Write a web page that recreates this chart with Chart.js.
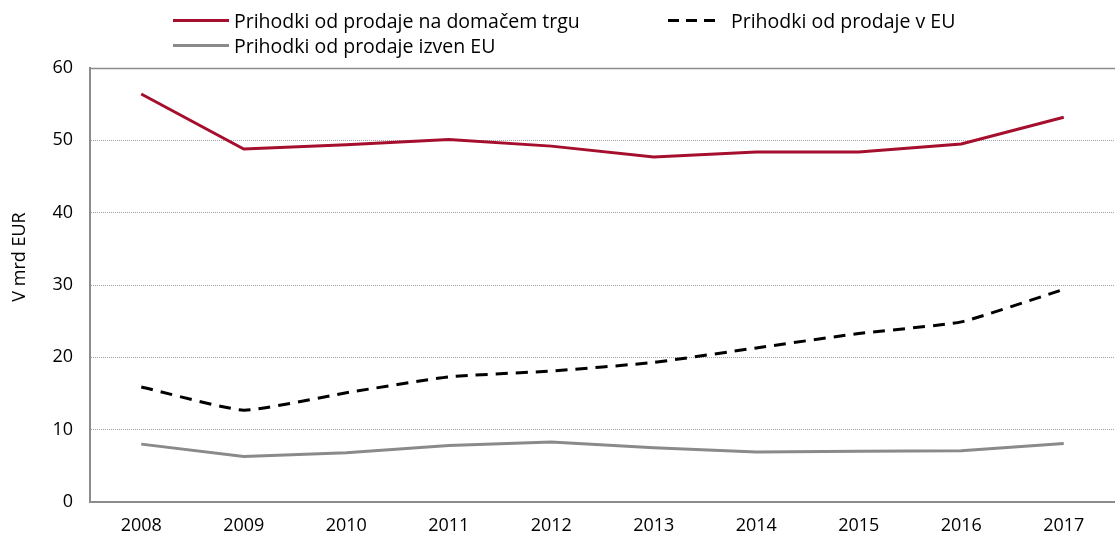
<!DOCTYPE html>
<html><head><meta charset="utf-8">
<script src="https://cdn.jsdelivr.net/npm/chart.js@4"></script>
<style>
html,body{margin:0;padding:0;background:#fff;}
#wrap{position:relative;width:1115px;height:536px;}
#legend{position:absolute;left:0;top:0;width:1115px;height:60px;font-family:"Open Sans",sans-serif;font-size:19.5px;color:#000;}
.li{position:absolute;display:flex;align-items:center;white-space:nowrap;}
.sw{width:56px;height:0;margin-right:5px;}
</style></head>
<body><div id="wrap"><canvas id="c" width="1115" height="536"></canvas><div id="legend"></div></div>
<script>
const categories = ['2008','2009','2010','2011','2012','2013','2014','2015','2016','2017'];
const domestic = [56.4, 48.8, 49.4, 50.1, 49.2, 47.7, 48.4, 48.4, 49.5, 53.2];
const inEU = [15.9, 12.7, 15.1, 17.3, 18.1, 19.3, 21.3, 23.3, 24.9, 29.4];
const outsideEU = [8.0, 6.3, 6.8, 7.8, 8.3, 7.5, 6.9, 7.0, 7.1, 8.1];
const seriesLabels = ['Prihodki od prodaje na domačem trgu','Prihodki od prodaje v EU','Prihodki od prodaje izven EU'];
const yTicks = [0,10,20,30,40,50,60];
const yTitle = 'V mrd EUR';

const FONT = '"Open Sans", sans-serif';
const extras = {
  id:'extras',
  afterDraw(chart){
    const {ctx, chartArea, scales} = chart;
    const y = Math.round(scales.y.getPixelForValue(60)) + 0.5;
    ctx.save(); ctx.strokeStyle='#8c8c8c'; ctx.lineWidth=1.5;
    ctx.beginPath(); ctx.moveTo(chartArea.left, y); ctx.lineTo(chartArea.right, y); ctx.stroke();
    ctx.translate(20, 257); ctx.rotate(-Math.PI/2);
    ctx.fillStyle='#000'; ctx.font='18px '+FONT; ctx.textAlign='center'; ctx.textBaseline='middle';
    ctx.fillText(yTitle, 0, 0);
    ctx.restore();
  }
};
const chart = new Chart(document.getElementById('c'), {
  type:'line',
  data:{labels:categories, datasets:[
    {label:seriesLabels[0], data:domestic, borderColor:'#a50f2d', borderWidth:3, pointRadius:0, tension:0, fill:false},
    {label:seriesLabels[1], data:inEU, borderColor:'#000000', borderWidth:3, borderDash:[12,8], pointRadius:0, tension:0.15, fill:false},
    {label:seriesLabels[2], data:outsideEU, borderColor:'#8a8a8a', borderWidth:3, pointRadius:0, tension:0, fill:false}
  ]},
  options:{
    responsive:false, animation:false,
    layout:{padding:{top:68, right:0, left:0, bottom:0}},
    plugins:{legend:{display:false}, tooltip:{enabled:false}},
    scales:{
      x:{offset:true,
         grid:{display:false, drawTicks:false},
         border:{display:true, color:'#8c8c8c', width:2},
         ticks:{color:'#000', font:{family:FONT, size:18}, padding:13},
         afterFit(s){s.height=34;}
      },
      y:{min:0, max:60,
         afterBuildTicks(s){s.ticks = yTicks.map(v=>({value:v}));},
         grid:{color:(c)=> (c.tick && (c.tick.value===0||c.tick.value===60)) ? 'rgba(0,0,0,0)' : '#a0a0a0', lineWidth:1, drawTicks:false},
         border:{display:true, color:'#8c8c8c', width:2, dash:[1,1]},
         ticks:{color:'#000', font:{family:FONT, size:18}, padding:17},
         afterFit(s){s.width=90;}
      }
    }
  },
  plugins:[extras]
});

// HTML legend built from the datasets
const leg = document.getElementById('legend');
const pos = [[173,20],[668,20],[173,45]];
chart.data.datasets.forEach((ds,i)=>{
  const d = document.createElement('div'); d.className='li';
  d.style.left = pos[i][0]+'px'; d.style.top=(pos[i][1]-13)+'px'; d.style.height='26px';
  const sw = document.createElement('span'); sw.className='sw';
  if(i===1){ sw.style.width='47px'; sw.style.height='3px'; sw.style.marginRight='16px';
    sw.style.background='repeating-linear-gradient(90deg,#000 0 11px,transparent 11px 18px)'; }
  else { sw.style.borderTop='3px solid '+ds.borderColor; }
  const t = document.createElement('span'); t.textContent = ds.label;
  d.appendChild(sw); d.appendChild(t); leg.appendChild(d);
});
</script></body></html>
